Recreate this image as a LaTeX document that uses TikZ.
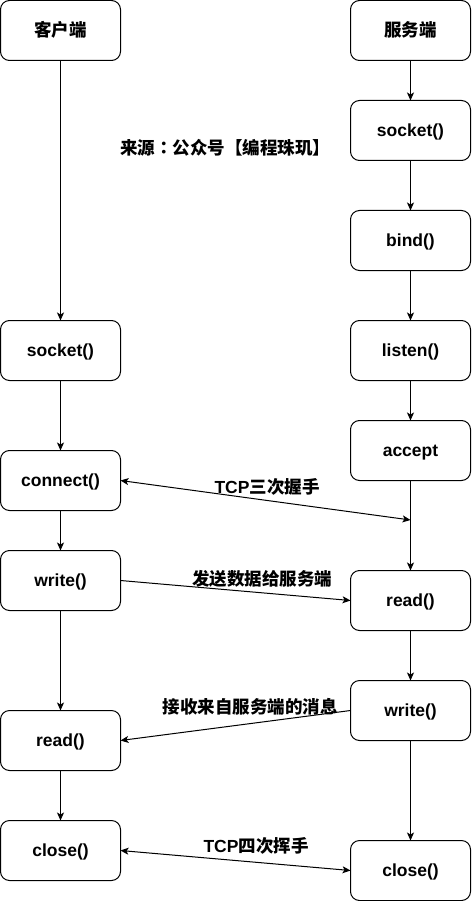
\documentclass[tikz,border=0pt]{standalone}
\usepackage{fontspec}
\setmainfont{Liberation Sans}
\newfontfamily\cjk{Noto Sans CJK SC}
\newfontfamily\cjktc{Noto Sans CJK TC}
\usetikzlibrary{arrows.meta, positioning}
\tikzstyle{box} = [rectangle, rounded corners=9pt, minimum width=120pt, minimum height=60pt, outer sep=0pt, text centered, text height=12pt, text depth=0pt, draw=black, line width=1pt, font=\bfseries\fontsize{17.5}{20}\selectfont]
\tikzstyle{note} = [font=\bfseries\fontsize{17.5}{20}\selectfont, inner sep=0pt]
\tikzstyle{arrow} = [line width=1pt, -{Stealth[length=8pt, width=7pt, inset=2pt]}]
\tikzstyle{twoway} = [line width=1pt, {Stealth[length=8pt, width=7pt, inset=2pt]}-{Stealth[length=8pt, width=7pt, inset=2pt]}]

\begin{document}
\begin{tikzpicture}[x=1pt, y=1pt, node distance=40pt]
\useasboundingbox (0,0) rectangle (471,-901);

% client side
\node[box] (client) at (60.5,-30.5) {\cjk 客户端};
\node[box, below=260pt of client] (csocket) {socket()};
\node[box, below=70pt of csocket] (cconnect) {connect()};
\node[box, below=40pt of cconnect] (cwrite) {write()};
\node[box, below=100pt of cwrite] (cread) {read()};
\node[box, below=50pt of cread] (cclose) {close()};
\draw[arrow] (client) -- (csocket);
\draw[arrow] (csocket) -- (cconnect);
\draw[arrow] (cconnect) -- (cwrite);
\draw[arrow] (cwrite) -- (cread);
\draw[arrow] (cread) -- (cclose);

% server side
\node[box] (server) at (410.5,-30.5) {\cjk 服务端};
\node[box, below=40pt of server] (ssocket) {socket()};
\node[box, below=50pt of ssocket] (sbind) {bind()};
\node[box, below=50pt of sbind] (slisten) {listen()};
\node[box, below=40pt of slisten] (saccept) {accept};
\node[box, below=90pt of saccept] (sread) {read()};
\node[box, below=50pt of sread] (swrite) {write()};
\node[box, below=100pt of swrite] (sclose) {close()};
\draw[arrow] (server) -- (ssocket);
\draw[arrow] (ssocket) -- (sbind);
\draw[arrow] (sbind) -- (slisten);
\draw[arrow] (slisten) -- (saccept);
\draw[arrow] (saccept) -- (sread);
\draw[arrow] (sread) -- (swrite);
\draw[arrow] (swrite) -- (sclose);

% messages between both sides
\coordinate (shake) at (410.5,-520);
\draw[twoway] (cconnect.east) -- (shake);
\draw[arrow] (cwrite.east) -- (sread.west);
\draw[arrow] (swrite.west) -- (cread.east);
\draw[twoway] (cclose.east) -- (sclose.west);

% labels
\node[note] (source) at (225,-148) {\cjk 来源{\cjktc ：}公众号【编程珠玑】};
\node[note] (hsnote) at (267,-487) {TCP{\cjk 三次握手}};
\node[note] (sendnote) at (262,-579) {\cjk 发送数据给服务端};
\node[note] (recvnote) at (250,-707) {\cjk 接收来自服务端的消息};
\node[note] (byenote) at (256,-846) {TCP{\cjk 四次挥手}};

\end{tikzpicture}
\end{document}
